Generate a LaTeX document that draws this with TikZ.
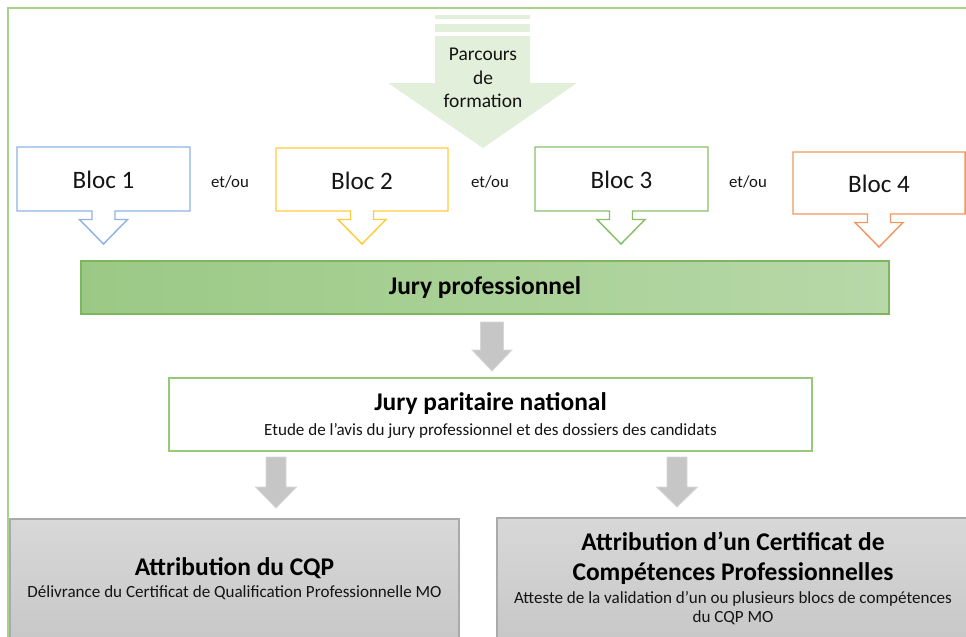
\documentclass[tikz,border=0pt]{standalone}
\usepackage{fontspec}
\setmainfont{Carlito}
\definecolor{framecol}{RGB}{169,209,142}
\definecolor{parcol}{RGB}{226,239,218}
\definecolor{bblue}{RGB}{143,180,227}
\definecolor{byellow}{RGB}{255,204,60}
\definecolor{bgreen}{RGB}{135,192,105}
\definecolor{borange}{RGB}{240,152,98}
\definecolor{jpleft}{RGB}{155,201,133}
\definecolor{jpright}{RGB}{183,216,168}
\definecolor{jpborder}{RGB}{125,182,95}
\definecolor{paritborder}{RGB}{150,202,120}
\definecolor{grayarrow}{RGB}{198,198,198}
\definecolor{grayarrowedge}{RGB}{215,215,215}
\definecolor{grtop}{RGB}{216,216,216}
\definecolor{grbot}{RGB}{198,198,198}
\definecolor{grborder}{RGB}{170,170,170}
\definecolor{txt}{RGB}{20,20,20}
\begin{document}
\begin{tikzpicture}[x=0.75pt,y=-0.75pt,
  bloctxt/.style={font=\fontsize{18.8}{22}\selectfont, text=txt, inner sep=0pt},
  etou/.style={font=\fontsize{12.6}{15}\selectfont, text=txt, inner sep=0pt},
  bigbold/.style={font=\fontsize{19.1}{22.5}\selectfont\bfseries, text=black, inner sep=0pt, align=center},
  smalltxt/.style={font=\fontsize{12.8}{14.25}\selectfont, text=txt, inner sep=0pt, align=center},
  blocline/.style={line width=1.1pt, fill=white, line join=miter},
  grayarr/.style={fill=grayarrow, draw=grayarrowedge, line width=0.6pt}]
\useasboundingbox (0,0) rectangle (966,636);
% outer frame
\draw[framecol, line width=1.5pt] (8,645) -- (8,7.5) -- (975,7.5);
% parcours arrow
\fill[parcol] (435,15) rectangle (530,19);
\fill[parcol] (435,24) rectangle (530,32);
\fill[parcol] (435,36) -- (530,36) -- (530,83) -- (577,83) -- (483,148) -- (388,83) -- (435,83) -- cycle;
\node[font=\fontsize{14.6}{17.6}\selectfont, text=txt, align=center, inner sep=0pt] (parc) at (483,78) {Parcours\\de\\formation};
% bloc callouts
\foreach \xa/\xb/\yt/\yb/\c/\col/\nm/\lbl in {17/190/147/211/103.5/bblue/b1/Bloc 1, 276/448/148/211/362/byellow/b2/Bloc 2, 535/708/147/211/621/bgreen/b3/Bloc 3, 793/965/152/214/879/borange/b4/Bloc 4}{
  \draw[blocline, draw=\col] (\xa,\yt) -- (\xb,\yt) -- (\xb,\yb) -- (\c+11.5,\yb) -- (\c+11.5,\yb+8.5) -- (\c+24,\yb+8.5) -- (\c,\yb+33) -- (\c-24,\yb+8.5) -- (\c-11.5,\yb+8.5) -- (\c-11.5,\yb) -- (\xa,\yb) -- cycle;
  \node[bloctxt] (\nm) at ({(\xa+\xb)/2},{(\yt+\yb)/2+1}) {\lbl};
}
\node[etou] (e1) at (230,182) {et/ou};
\node[etou] (e2) at (490,182) {et/ou};
\node[etou] (e3) at (748,182) {et/ou};
% jury professionnel
\draw[left color=jpleft, right color=jpright, draw=jpborder, line width=1pt] (81,261) rectangle (889,314);
\node[bigbold] (jp) at (485,288) {Jury professionnel};
% gray arrow 1
\draw[grayarr] (480.5,322) -- (503.5,322) -- (503.5,350) -- (512,350) -- (492,371) -- (472,350) -- (480.5,350) -- cycle;
% jury paritaire national
\draw[draw=paritborder, line width=1.1pt, fill=white] (169,378) rectangle (812,451);
\node[bigbold] (jpn) at (490.5,404) {Jury paritaire national};
\node[smalltxt] (jpns) at (490.5,431) {Etude de l’avis du jury professionnel et des dossiers des candidats};
% gray arrows 2,3
\draw[grayarr] (266,457) -- (286,457) -- (286,487) -- (296.5,487) -- (276,508) -- (255.5,487) -- (266,487) -- cycle;
\draw[grayarr] (667,457) -- (687,457) -- (687,487) -- (697.5,487) -- (677,507) -- (656.5,487) -- (667,487) -- cycle;
% bottom boxes
\draw[top color=grtop, bottom color=grbot, draw=grborder, line width=1pt] (10,519) rectangle (459,650);
\node[bigbold] (cqp) at (234.5,568) {Attribution du CQP};
\node[smalltxt] (cqps) at (234.5,593) {Délivrance du Certificat de Qualification Professionnelle MO};
\draw[top color=grtop, bottom color=grbot, draw=grborder, line width=1pt] (497,518) rectangle (975,650);
\node[bigbold] (ccp) at (733,558) {Attribution d’un Certificat de\\Compétences Professionnelles};
\node[smalltxt] (ccps) at (733,608) {Atteste de la validation d’un ou plusieurs blocs de compétences\\du CQP MO};
\end{tikzpicture}
\end{document}
